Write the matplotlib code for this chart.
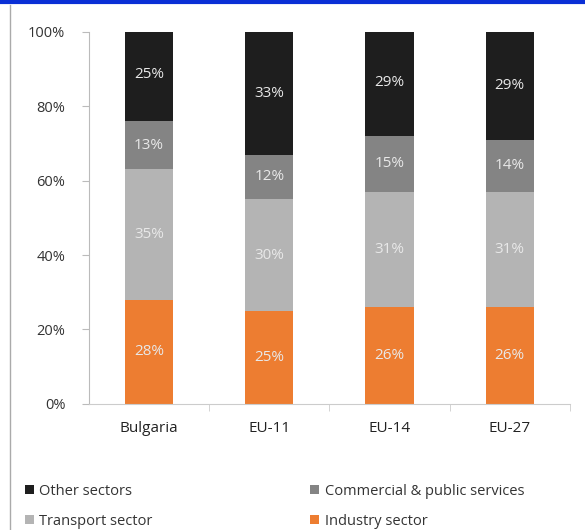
import numpy as np
from matplotlib import pyplot as plt
from matplotlib.lines import Line2D

plt.rcParams['font.family'] = ['Open Sans', 'DejaVu Sans']

regions = ['Bulgaria', 'EU-11', 'EU-14', 'EU-27']
industry = [28, 25, 26, 26]
transport = [35, 30, 31, 31]
commercial = [13, 12, 15, 14]
other = [25, 33, 29, 29]

series = [('Industry sector', industry, '#ed7d31'),
          ('Transport sector', transport, '#b4b4b4'),
          ('Commercial & public services', commercial, '#848484'),
          ('Other sectors', other, '#1e1e1e')]

fig = plt.figure(figsize=(5.85, 5.3), dpi=100)
ax = fig.add_axes([0.152, 0.238, 0.822, 0.702])

x = np.arange(len(regions))
bottom = np.zeros(len(regions))
handles = {}
for name, vals, col in series:
    vals = np.array(vals) / 100.0
    b = ax.bar(x, vals, 0.4, bottom=bottom, color=col, label=name)
    handles[name] = b
    for xi, v, bt in zip(x, vals, bottom):
        ax.text(xi, bt + v / 2, '%d%%' % round(v * 100), ha='center', va='center',
                color='#e8e8e8', fontsize=11)
    bottom = bottom + vals

ax.set_ylim(0, 1)
ax.set_xlim(-0.5, len(regions) - 0.5)
ax.set_yticks(np.arange(0, 1.01, 0.2))
ax.set_yticklabels(['%d%%' % (v * 100) for v in np.arange(0, 1.01, 0.2)], fontsize=10.5, color='#333333')
ax.set_xticks(x)
ax.set_xticklabels(regions, fontsize=11, color='#222222')
ax.tick_params(axis='x', length=0, pad=12)
ax.tick_params(axis='y', length=5, color='#bbbbbb', pad=12)
ax.set_xticks(np.arange(0.5, len(regions) - 0.4, 1.0), minor=True)
ax.tick_params(axis='x', which='minor', length=5, color='#cccccc')
for s in ['top', 'right']:
    ax.spines[s].set_visible(False)
ax.spines['left'].set_color('#bbbbbb')
ax.spines['bottom'].set_color('#cccccc')

order = ['Other sectors', 'Transport sector', 'Commercial & public services', 'Industry sector']
leg = fig.legend([handles[n] for n in order], order, ncol=2, loc='lower left',
                 bbox_to_anchor=(0.02, -0.022), frameon=False, fontsize=10.5,
                 handlelength=0.6, handleheight=0.6, handletextpad=0.4,
                 columnspacing=10.8, labelspacing=1.0)
for t in leg.get_texts():
    t.set_color('#333333')

fig.add_artist(Line2D([0, 1], [0.997, 0.997], color='#0a2fd6', lw=3, transform=fig.transFigure))
fig.add_artist(Line2D([0.017, 0.017], [0, 0.99], color='#aaaaaa', lw=1, transform=fig.transFigure))

fig.savefig('out.png', dpi=100, facecolor='white')
